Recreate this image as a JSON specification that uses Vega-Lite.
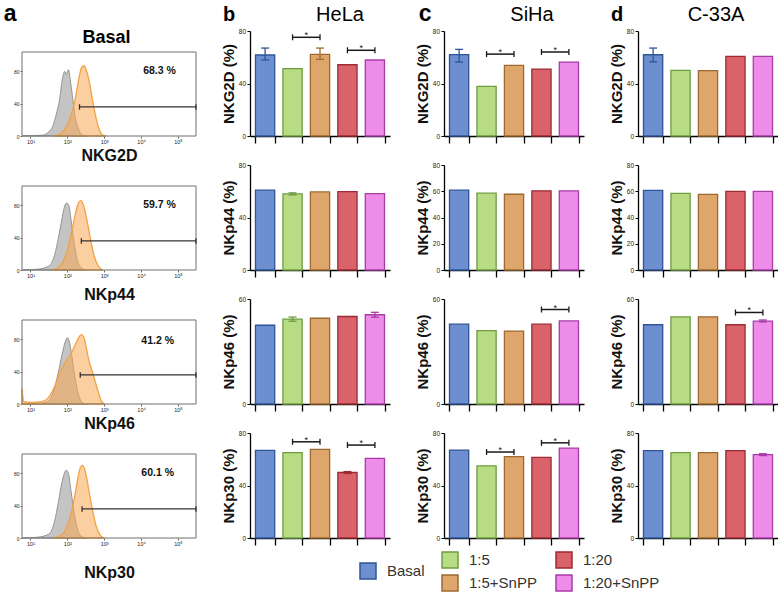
{
"$schema": "https://vega.github.io/schema/vega-lite/v6.json",
"padding": {"left": 3, "top": 2, "right": 0, "bottom": 0},
"background": "white",
"columns": 4,
"bounds": "flush",
"align": "each",
"spacing": {"row": 29, "column": 54},
"resolve": {"scale": {"x": "independent", "y": "independent"}},
"config": {
  "font": "Liberation Sans",
  "view": {"stroke": null},
  "axis": {"grid": false, "labelOverlap": false, "labelColor": "#222", "titleColor": "#111", "labelFont": "Liberation Sans", "titleFont": "Liberation Sans"},
  "axisBand": {"labels": false, "tickBand": "extent", "tickSize": 7, "domainColor": "#000", "tickColor": "#000", "domainWidth": 1.3, "tickWidth": 1.3},
  "axisY": {"labelOverlap": false, "labelFontSize": 6.5, "tickSize": 3, "labelPadding": 1.5, "domainColor": "#000", "tickColor": "#000", "domainWidth": 1.3, "tickWidth": 1, "titleFontSize": 15, "titleFontWeight": "bold", "titlePadding": 2},
  "legend": {"labelFont": "Liberation Sans", "labelFontSize": 15, "labelColor": "#333", "symbolType": "square", "symbolSize": 256, "symbolStrokeWidth": 1.5, "labelOffset": 10, "padding": 0, "symbolBaseFillColor": "#6d8fcf"}
},
"datasets": {
  "bars": [
    {"cell":"HeLa","rec":"NKG2D","cond":"Basal","val":61.7,"lo":57.9,"hi":67},
    {"cell":"HeLa","rec":"NKG2D","cond":"1:5","val":51.3},
    {"cell":"HeLa","rec":"NKG2D","cond":"1:5+SnPP","val":62.2,"lo":58.4,"hi":67},
    {"cell":"HeLa","rec":"NKG2D","cond":"1:20","val":54.3},
    {"cell":"HeLa","rec":"NKG2D","cond":"1:20+SnPP","val":57.9},
    {"cell":"HeLa","rec":"NKp44","cond":"Basal","val":60.8},
    {"cell":"HeLa","rec":"NKp44","cond":"1:5","val":58,"lo":57.2,"hi":58.8},
    {"cell":"HeLa","rec":"NKp44","cond":"1:5+SnPP","val":59.5},
    {"cell":"HeLa","rec":"NKp44","cond":"1:20","val":59.7},
    {"cell":"HeLa","rec":"NKp44","cond":"1:20+SnPP","val":58.2},
    {"cell":"HeLa","rec":"NKp46","cond":"Basal","val":45},
    {"cell":"HeLa","rec":"NKp46","cond":"1:5","val":48.5,"lo":47.3,"hi":49.7},
    {"cell":"HeLa","rec":"NKp46","cond":"1:5+SnPP","val":49},
    {"cell":"HeLa","rec":"NKp46","cond":"1:20","val":50},
    {"cell":"HeLa","rec":"NKp46","cond":"1:20+SnPP","val":51,"lo":49.6,"hi":52.4},
    {"cell":"HeLa","rec":"NKp30","cond":"Basal","val":66.8},
    {"cell":"HeLa","rec":"NKp30","cond":"1:5","val":65},
    {"cell":"HeLa","rec":"NKp30","cond":"1:5+SnPP","val":67.5},
    {"cell":"HeLa","rec":"NKp30","cond":"1:20","val":49.9,"lo":49.2,"hi":50.6},
    {"cell":"HeLa","rec":"NKp30","cond":"1:20+SnPP","val":60.7},
    {"cell":"SiHa","rec":"NKG2D","cond":"Basal","val":62,"lo":56.3,"hi":66},
    {"cell":"SiHa","rec":"NKG2D","cond":"1:5","val":37.8},
    {"cell":"SiHa","rec":"NKG2D","cond":"1:5+SnPP","val":53.8},
    {"cell":"SiHa","rec":"NKG2D","cond":"1:20","val":51},
    {"cell":"SiHa","rec":"NKG2D","cond":"1:20+SnPP","val":56.3},
    {"cell":"SiHa","rec":"NKp44","cond":"Basal","val":60.8},
    {"cell":"SiHa","rec":"NKp44","cond":"1:5","val":58.5},
    {"cell":"SiHa","rec":"NKp44","cond":"1:5+SnPP","val":57.7},
    {"cell":"SiHa","rec":"NKp44","cond":"1:20","val":60.3},
    {"cell":"SiHa","rec":"NKp44","cond":"1:20+SnPP","val":60.3},
    {"cell":"SiHa","rec":"NKp46","cond":"Basal","val":45.6},
    {"cell":"SiHa","rec":"NKp46","cond":"1:5","val":41.9},
    {"cell":"SiHa","rec":"NKp46","cond":"1:5+SnPP","val":41.7},
    {"cell":"SiHa","rec":"NKp46","cond":"1:20","val":45.6},
    {"cell":"SiHa","rec":"NKp46","cond":"1:20+SnPP","val":47.5},
    {"cell":"SiHa","rec":"NKp30","cond":"Basal","val":67},
    {"cell":"SiHa","rec":"NKp30","cond":"1:5","val":55},
    {"cell":"SiHa","rec":"NKp30","cond":"1:5+SnPP","val":62},
    {"cell":"SiHa","rec":"NKp30","cond":"1:20","val":61.5},
    {"cell":"SiHa","rec":"NKp30","cond":"1:20+SnPP","val":68.5},
    {"cell":"C-33A","rec":"NKG2D","cond":"Basal","val":61.9,"lo":56.5,"hi":67},
    {"cell":"C-33A","rec":"NKG2D","cond":"1:5","val":50},
    {"cell":"C-33A","rec":"NKG2D","cond":"1:5+SnPP","val":49.8},
    {"cell":"C-33A","rec":"NKG2D","cond":"1:20","val":60.6},
    {"cell":"C-33A","rec":"NKG2D","cond":"1:20+SnPP","val":60.6},
    {"cell":"C-33A","rec":"NKp44","cond":"Basal","val":60.6},
    {"cell":"C-33A","rec":"NKp44","cond":"1:5","val":58.4},
    {"cell":"C-33A","rec":"NKp44","cond":"1:5+SnPP","val":57.6},
    {"cell":"C-33A","rec":"NKp44","cond":"1:20","val":59.9},
    {"cell":"C-33A","rec":"NKp44","cond":"1:20+SnPP","val":59.9},
    {"cell":"C-33A","rec":"NKp46","cond":"Basal","val":45.3},
    {"cell":"C-33A","rec":"NKp46","cond":"1:5","val":49.8},
    {"cell":"C-33A","rec":"NKp46","cond":"1:5+SnPP","val":49.8},
    {"cell":"C-33A","rec":"NKp46","cond":"1:20","val":45.3},
    {"cell":"C-33A","rec":"NKp46","cond":"1:20+SnPP","val":47.4,"lo":46.9,"hi":48},
    {"cell":"C-33A","rec":"NKp30","cond":"Basal","val":66.6},
    {"cell":"C-33A","rec":"NKp30","cond":"1:5","val":65},
    {"cell":"C-33A","rec":"NKp30","cond":"1:5+SnPP","val":65},
    {"cell":"C-33A","rec":"NKp30","cond":"1:20","val":66.6},
    {"cell":"C-33A","rec":"NKp30","cond":"1:20+SnPP","val":63.5,"lo":62.8,"hi":64.2}
  ],
  "sig": [
    {"cell":"HeLa","rec":"NKG2D","a":"1:5","b":"1:5+SnPP","y":75.2},
    {"cell":"HeLa","rec":"NKG2D","a":"1:20","b":"1:20+SnPP","y":65.3},
    {"cell":"HeLa","rec":"NKp30","a":"1:5","b":"1:5+SnPP","y":73.3},
    {"cell":"HeLa","rec":"NKp30","a":"1:20","b":"1:20+SnPP","y":70.8},
    {"cell":"SiHa","rec":"NKG2D","a":"1:5","b":"1:5+SnPP","y":62.4},
    {"cell":"SiHa","rec":"NKG2D","a":"1:20","b":"1:20+SnPP","y":64},
    {"cell":"SiHa","rec":"NKp46","a":"1:20","b":"1:20+SnPP","y":54},
    {"cell":"SiHa","rec":"NKp30","a":"1:5","b":"1:5+SnPP","y":65.5},
    {"cell":"SiHa","rec":"NKp30","a":"1:20","b":"1:20+SnPP","y":72.5},
    {"cell":"C-33A","rec":"NKp46","a":"1:20","b":"1:20+SnPP","y":52.3}
  ],
  "hist": [
    {"p":"NKG2D","s":"iso","lx":0.8,"n":0},{"p":"NKG2D","s":"iso","lx":1.0,"n":0.5},{"p":"NKG2D","s":"iso","lx":1.32,"n":1},{"p":"NKG2D","s":"iso","lx":1.57,"n":9},{"p":"NKG2D","s":"iso","lx":1.7,"n":27},{"p":"NKG2D","s":"iso","lx":1.79,"n":45},{"p":"NKG2D","s":"iso","lx":1.87,"n":72},{"p":"NKG2D","s":"iso","lx":1.93,"n":80},{"p":"NKG2D","s":"iso","lx":1.97,"n":76},{"p":"NKG2D","s":"iso","lx":2.03,"n":82},{"p":"NKG2D","s":"iso","lx":2.09,"n":66},{"p":"NKG2D","s":"iso","lx":2.15,"n":45},{"p":"NKG2D","s":"iso","lx":2.21,"n":24},{"p":"NKG2D","s":"iso","lx":2.3,"n":9},{"p":"NKG2D","s":"iso","lx":2.41,"n":1},{"p":"NKG2D","s":"iso","lx":2.52,"n":0},
    {"p":"NKG2D","s":"ab","lx":1.6,"n":0},{"p":"NKG2D","s":"ab","lx":1.74,"n":1},{"p":"NKG2D","s":"ab","lx":1.91,"n":7},{"p":"NKG2D","s":"ab","lx":2.09,"n":24},{"p":"NKG2D","s":"ab","lx":2.21,"n":45},{"p":"NKG2D","s":"ab","lx":2.3,"n":68},{"p":"NKG2D","s":"ab","lx":2.38,"n":84},{"p":"NKG2D","s":"ab","lx":2.45,"n":87},{"p":"NKG2D","s":"ab","lx":2.51,"n":82},{"p":"NKG2D","s":"ab","lx":2.6,"n":66},{"p":"NKG2D","s":"ab","lx":2.68,"n":45},{"p":"NKG2D","s":"ab","lx":2.77,"n":24},{"p":"NKG2D","s":"ab","lx":2.85,"n":10},{"p":"NKG2D","s":"ab","lx":2.96,"n":1},{"p":"NKG2D","s":"ab","lx":3.05,"n":0},
    {"p":"NKp44","s":"iso","lx":0.8,"n":0},{"p":"NKp44","s":"iso","lx":1.2,"n":1},{"p":"NKp44","s":"iso","lx":1.5,"n":5},{"p":"NKp44","s":"iso","lx":1.65,"n":18},{"p":"NKp44","s":"iso","lx":1.76,"n":40},{"p":"NKp44","s":"iso","lx":1.85,"n":62},{"p":"NKp44","s":"iso","lx":1.92,"n":78},{"p":"NKp44","s":"iso","lx":1.98,"n":83},{"p":"NKp44","s":"iso","lx":2.04,"n":80},{"p":"NKp44","s":"iso","lx":2.1,"n":62},{"p":"NKp44","s":"iso","lx":2.17,"n":38},{"p":"NKp44","s":"iso","lx":2.25,"n":16},{"p":"NKp44","s":"iso","lx":2.35,"n":4},{"p":"NKp44","s":"iso","lx":2.48,"n":0},
    {"p":"NKp44","s":"ab","lx":1.55,"n":0},{"p":"NKp44","s":"ab","lx":1.72,"n":2},{"p":"NKp44","s":"ab","lx":1.88,"n":10},{"p":"NKp44","s":"ab","lx":2.02,"n":28},{"p":"NKp44","s":"ab","lx":2.13,"n":50},{"p":"NKp44","s":"ab","lx":2.23,"n":72},{"p":"NKp44","s":"ab","lx":2.31,"n":84},{"p":"NKp44","s":"ab","lx":2.37,"n":86},{"p":"NKp44","s":"ab","lx":2.44,"n":80},{"p":"NKp44","s":"ab","lx":2.53,"n":62},{"p":"NKp44","s":"ab","lx":2.63,"n":38},{"p":"NKp44","s":"ab","lx":2.73,"n":17},{"p":"NKp44","s":"ab","lx":2.84,"n":5},{"p":"NKp44","s":"ab","lx":2.96,"n":0},
    {"p":"NKp46","s":"iso","lx":0.8,"n":0},{"p":"NKp46","s":"iso","lx":1.3,"n":1},{"p":"NKp46","s":"iso","lx":1.5,"n":4},{"p":"NKp46","s":"iso","lx":1.62,"n":15},{"p":"NKp46","s":"iso","lx":1.75,"n":38},{"p":"NKp46","s":"iso","lx":1.85,"n":60},{"p":"NKp46","s":"iso","lx":1.95,"n":78},{"p":"NKp46","s":"iso","lx":2.0,"n":82},{"p":"NKp46","s":"iso","lx":2.05,"n":78},{"p":"NKp46","s":"iso","lx":2.12,"n":60},{"p":"NKp46","s":"iso","lx":2.2,"n":35},{"p":"NKp46","s":"iso","lx":2.3,"n":12},{"p":"NKp46","s":"iso","lx":2.4,"n":2},{"p":"NKp46","s":"iso","lx":2.5,"n":0},
    {"p":"NKp46","s":"ab","lx":0.77,"n":19},{"p":"NKp46","s":"ab","lx":0.82,"n":3},{"p":"NKp46","s":"ab","lx":1.0,"n":2},{"p":"NKp46","s":"ab","lx":1.3,"n":3},{"p":"NKp46","s":"ab","lx":1.47,"n":7},{"p":"NKp46","s":"ab","lx":1.64,"n":20},{"p":"NKp46","s":"ab","lx":1.81,"n":40},{"p":"NKp46","s":"ab","lx":1.99,"n":55},{"p":"NKp46","s":"ab","lx":2.1,"n":62},{"p":"NKp46","s":"ab","lx":2.23,"n":75},{"p":"NKp46","s":"ab","lx":2.38,"n":86},{"p":"NKp46","s":"ab","lx":2.45,"n":82},{"p":"NKp46","s":"ab","lx":2.58,"n":55},{"p":"NKp46","s":"ab","lx":2.71,"n":35},{"p":"NKp46","s":"ab","lx":2.84,"n":15},{"p":"NKp46","s":"ab","lx":2.93,"n":3},{"p":"NKp46","s":"ab","lx":3.02,"n":0},
    {"p":"NKp30","s":"iso","lx":0.8,"n":0},{"p":"NKp30","s":"iso","lx":1.2,"n":1},{"p":"NKp30","s":"iso","lx":1.5,"n":5},{"p":"NKp30","s":"iso","lx":1.65,"n":20},{"p":"NKp30","s":"iso","lx":1.76,"n":45},{"p":"NKp30","s":"iso","lx":1.85,"n":68},{"p":"NKp30","s":"iso","lx":1.92,"n":80},{"p":"NKp30","s":"iso","lx":1.97,"n":84},{"p":"NKp30","s":"iso","lx":2.03,"n":80},{"p":"NKp30","s":"iso","lx":2.1,"n":58},{"p":"NKp30","s":"iso","lx":2.18,"n":32},{"p":"NKp30","s":"iso","lx":2.27,"n":12},{"p":"NKp30","s":"iso","lx":2.38,"n":2},{"p":"NKp30","s":"iso","lx":2.5,"n":0},
    {"p":"NKp30","s":"ab","lx":1.6,"n":0},{"p":"NKp30","s":"ab","lx":1.78,"n":2},{"p":"NKp30","s":"ab","lx":1.95,"n":10},{"p":"NKp30","s":"ab","lx":2.1,"n":30},{"p":"NKp30","s":"ab","lx":2.2,"n":52},{"p":"NKp30","s":"ab","lx":2.29,"n":75},{"p":"NKp30","s":"ab","lx":2.36,"n":88},{"p":"NKp30","s":"ab","lx":2.42,"n":90},{"p":"NKp30","s":"ab","lx":2.49,"n":82},{"p":"NKp30","s":"ab","lx":2.58,"n":60},{"p":"NKp30","s":"ab","lx":2.68,"n":35},{"p":"NKp30","s":"ab","lx":2.78,"n":15},{"p":"NKp30","s":"ab","lx":2.9,"n":3},{"p":"NKp30","s":"ab","lx":3.0,"n":0}
  ],
  "gate": [
    {"p":"NKG2D","lo":2.33,"hi":5.49,"y":36,"pct":"68.3 %","tx":4.5,"ty":80},
    {"p":"NKp44","lo":2.38,"hi":5.49,"y":36,"pct":"59.7 %","tx":4.5,"ty":80},
    {"p":"NKp46","lo":2.35,"hi":5.49,"y":36,"pct":"41.2 %","tx":4.45,"ty":78},
    {"p":"NKp30","lo":2.4,"hi":5.49,"y":36,"pct":"60.1 %","tx":4.45,"ty":80}
  ]
},
"concat": [
  {"width": 174, "height": 105, "data": {"name": "hist"}, "transform": [{"filter": "datum.p==='NKG2D'"}],
   "layer": [
    {"transform": [{"filter": "datum.s==='iso'"}], "mark": {"type": "area", "interpolate": "monotone", "fill": "#c4c4c4", "stroke": "#939393", "strokeWidth": 1},
     "encoding": {"x": {"field": "lx", "type": "quantitative", "scale": {"domain": [0.77, 5.49], "nice": false, "zero": false}, "axis": {"values": [1,2,3,4,5], "labelOverlap": false, "labelExpr": "'10' + ['⁰','¹','²','³','⁴','⁵'][datum.value]", "labelFontSize": 5.5, "tickSize": 2, "tickColor": "#666", "domain": false, "labelPadding": 1, "title": "NKG2D", "titleFontSize": 16, "titleFontWeight": "bold", "titlePadding": 3}},
                  "y": {"field": "n", "type": "quantitative", "scale": {"domain": [0, 130], "nice": false}, "axis": {"values": [0,20,40,60,80,100], "labelOverlap": false, "labelFontSize": 5, "tickSize": 2, "tickColor": "#666", "domain": false, "title": null, "labelPadding": 1}}}},
    {"transform": [{"filter": "datum.s==='ab'"}], "mark": {"type": "area", "interpolate": "monotone", "fill": "#f8a852", "fillOpacity": 0.55, "stroke": "#f2a244", "strokeWidth": 1.3},
     "encoding": {"x": {"field": "lx", "type": "quantitative"}, "y": {"field": "n", "type": "quantitative"}}},
    {"data": {"name": "gate"}, "transform": [{"filter": "datum.p==='NKG2D'"}], "layer": [
      {"mark": {"type": "rect", "filled": false, "stroke": "#6e6e6e", "strokeWidth": 1}, "encoding": {"x": {"datum": 0.77, "type": "quantitative"}, "x2": {"datum": 5.49}, "y": {"datum": 0, "type": "quantitative"}, "y2": {"datum": 104}}},
      {"mark": {"type": "rule", "color": "#333", "strokeWidth": 1.2}, "encoding": {"x": {"field": "lo", "type": "quantitative"}, "x2": {"field": "hi"}, "y": {"field": "y", "type": "quantitative"}}},
      {"mark": {"type": "point", "shape": "stroke", "angle": 90, "size": 30, "color": "#333", "strokeWidth": 1.3, "opacity": 1}, "encoding": {"x": {"field": "lo", "type": "quantitative"}, "y": {"field": "y", "type": "quantitative"}}},
      {"mark": {"type": "point", "shape": "stroke", "angle": 90, "size": 30, "color": "#333", "strokeWidth": 1.3, "opacity": 1}, "encoding": {"x": {"field": "hi", "type": "quantitative"}, "y": {"field": "y", "type": "quantitative"}}},
      {"mark": {"type": "text", "fontSize": 10.5, "fontWeight": "bold", "color": "#111"}, "encoding": {"x": {"field": "tx", "type": "quantitative"}, "y": {"field": "ty", "type": "quantitative"}, "text": {"field": "pct"}}},
      {"mark": {"type": "text", "text": "a", "fontSize": 23, "fontWeight": "bold", "align": "center", "baseline": "alphabetic", "color": "#000"}, "encoding": {"x": {"datum": 0.45, "type": "quantitative"}, "y": {"datum": 143, "type": "quantitative"}}},
      {"mark": {"type": "text", "text": "Basal", "fontSize": 18, "fontWeight": "bold", "align": "center", "baseline": "alphabetic", "color": "#000"}, "encoding": {"x": {"datum": 3.06, "type": "quantitative"}, "y": {"datum": 115, "type": "quantitative"}}}
    ]}
   ]},
  {"width": 140, "height": 105, "data": {"name": "bars"}, "transform": [{"filter": "datum.cell==='HeLa' && datum.rec==='NKG2D'"}],
   "layer": [
    {"mark": {"type": "bar", "strokeWidth": 1.3},
     "encoding": {"x": {"field": "cond", "type": "nominal", "scale": {"domain": ["Basal","1:5","1:5+SnPP","1:20","1:20+SnPP"], "paddingInner": 0.3, "paddingOuter": 0.2}, "axis": {"title": null}},
                  "y": {"field": "val", "type": "quantitative", "scale": {"domain": [0, 80], "nice": false}, "axis": {"title": "NKG2D (%)", "values": [0,20,40,60,80], "labelOverlap": false}},
                  "color": {"field": "cond", "type": "nominal", "scale": {"domain": ["Basal","1:5","1:20","1:5+SnPP","1:20+SnPP"], "range": ["#6d8fcf","#b8dc84","#da636b","#dfa66b","#ee8ce9"]},
                            "legend": {"values": ["1:5","1:5+SnPP","1:20","1:20+SnPP"], "columns": 2, "orient": "none", "legendX": 419, "legendY": 520, "title": null, "symbolType": "square", "symbolSize": 256, "symbolStrokeWidth": 1.5, "labelFontSize": 15, "labelOffset": 10, "rowPadding": 1, "columnPadding": 16, "padding": 0, "encode": {"symbols": {"update": {"stroke": {"scale": "stroke", "field": "value"}}}}}},
                  "stroke": {"field": "cond", "type": "nominal", "scale": {"domain": ["Basal","1:5","1:5+SnPP","1:20","1:20+SnPP"], "range": ["#2f5596","#6f9c40","#9c6a30","#9c2b35","#a83ca6"]},
                            "legend": {"values": ["Basal"], "orient": "none", "legendX": 337, "legendY": 531, "title": null, "symbolType": "square", "symbolSize": 256, "symbolStrokeWidth": 1.5, "labelFontSize": 15, "labelOffset": 10, "padding": 0}}}},
    {"transform": [{"filter": "isValid(datum.lo)"}], "layer": [
      {"mark": {"type": "rule", "strokeWidth": 1.3}, "encoding": {"x": {"field": "cond", "type": "nominal"}, "y": {"field": "lo", "type": "quantitative"}, "y2": {"field": "hi"}, "stroke": {"field": "cond", "type": "nominal"}}},
      {"mark": {"type": "point", "shape": "stroke", "size": 64, "strokeWidth": 1.3, "opacity": 1}, "encoding": {"x": {"field": "cond", "type": "nominal"}, "y": {"field": "lo", "type": "quantitative"}, "stroke": {"field": "cond", "type": "nominal"}}},
      {"mark": {"type": "point", "shape": "stroke", "size": 64, "strokeWidth": 1.3, "opacity": 1}, "encoding": {"x": {"field": "cond", "type": "nominal"}, "y": {"field": "hi", "type": "quantitative"}, "stroke": {"field": "cond", "type": "nominal"}}}
    ]},
    {"data": {"name": "sig"}, "transform": [{"filter": "datum.cell==='HeLa' && datum.rec==='NKG2D'"}], "layer": [
      {"mark": {"type": "rule", "color": "#1a1a1a", "strokeWidth": 1.5}, "encoding": {"x": {"field": "a", "type": "nominal"}, "x2": {"field": "b"}, "y": {"field": "y", "type": "quantitative"}}},
      {"mark": {"type": "point", "shape": "stroke", "angle": 90, "size": 36, "color": "#1a1a1a", "strokeWidth": 1.3, "opacity": 1}, "encoding": {"x": {"field": "a", "type": "nominal"}, "y": {"field": "y", "type": "quantitative"}}},
      {"mark": {"type": "point", "shape": "stroke", "angle": 90, "size": 36, "color": "#1a1a1a", "strokeWidth": 1.3, "opacity": 1}, "encoding": {"x": {"field": "b", "type": "nominal"}, "y": {"field": "y", "type": "quantitative"}}},
      {"mark": {"type": "text", "text": "*", "fontSize": 9, "dx": 13.7, "dy": 1, "baseline": "alphabetic", "color": "#111"}, "encoding": {"x": {"field": "a", "type": "nominal"}, "y": {"field": "y", "type": "quantitative"}}}
    ]},
    {"transform": [{"filter": "datum.cond==='Basal'"}], "layer": [
      {"mark": {"type": "text", "text": "b", "fontSize": 20, "fontWeight": "bold", "dx": -36, "align": "center", "baseline": "alphabetic", "color": "#000"}, "encoding": {"x": {"field": "cond", "type": "nominal"}, "y": {"datum": 88, "type": "quantitative"}}},
      {"mark": {"type": "text", "text": "HeLa", "fontSize": 20, "dx": 20, "align": "center", "baseline": "alphabetic", "color": "#000"}, "encoding": {"x": {"datum": "1:5+SnPP"}, "y": {"datum": 88, "type": "quantitative"}}}
    ]}
   ]},
  {"width": 140, "height": 105, "data": {"name": "bars"}, "transform": [{"filter": "datum.cell==='SiHa' && datum.rec==='NKG2D'"}],
   "layer": [
    {"mark": {"type": "bar", "strokeWidth": 1.3},
     "encoding": {"x": {"field": "cond", "type": "nominal", "scale": {"domain": ["Basal","1:5","1:5+SnPP","1:20","1:20+SnPP"], "paddingInner": 0.3, "paddingOuter": 0.2}, "axis": {"title": null}},
                  "y": {"field": "val", "type": "quantitative", "scale": {"domain": [0, 80], "nice": false}, "axis": {"title": "NKG2D (%)", "values": [0,20,40,60,80], "labelOverlap": false}},
                  "color": {"field": "cond", "type": "nominal", "scale": {"domain": ["Basal","1:5","1:20","1:5+SnPP","1:20+SnPP"], "range": ["#6d8fcf","#b8dc84","#da636b","#dfa66b","#ee8ce9"]}},
                  "stroke": {"field": "cond", "type": "nominal", "scale": {"domain": ["Basal","1:5","1:5+SnPP","1:20","1:20+SnPP"], "range": ["#2f5596","#6f9c40","#9c6a30","#9c2b35","#a83ca6"]}}}},
    {"transform": [{"filter": "isValid(datum.lo)"}], "layer": [
      {"mark": {"type": "rule", "strokeWidth": 1.3}, "encoding": {"x": {"field": "cond", "type": "nominal"}, "y": {"field": "lo", "type": "quantitative"}, "y2": {"field": "hi"}, "stroke": {"field": "cond", "type": "nominal"}}},
      {"mark": {"type": "point", "shape": "stroke", "size": 64, "strokeWidth": 1.3, "opacity": 1}, "encoding": {"x": {"field": "cond", "type": "nominal"}, "y": {"field": "lo", "type": "quantitative"}, "stroke": {"field": "cond", "type": "nominal"}}},
      {"mark": {"type": "point", "shape": "stroke", "size": 64, "strokeWidth": 1.3, "opacity": 1}, "encoding": {"x": {"field": "cond", "type": "nominal"}, "y": {"field": "hi", "type": "quantitative"}, "stroke": {"field": "cond", "type": "nominal"}}}
    ]},
    {"data": {"name": "sig"}, "transform": [{"filter": "datum.cell==='SiHa' && datum.rec==='NKG2D'"}], "layer": [
      {"mark": {"type": "rule", "color": "#1a1a1a", "strokeWidth": 1.5}, "encoding": {"x": {"field": "a", "type": "nominal"}, "x2": {"field": "b"}, "y": {"field": "y", "type": "quantitative"}}},
      {"mark": {"type": "point", "shape": "stroke", "angle": 90, "size": 36, "color": "#1a1a1a", "strokeWidth": 1.3, "opacity": 1}, "encoding": {"x": {"field": "a", "type": "nominal"}, "y": {"field": "y", "type": "quantitative"}}},
      {"mark": {"type": "point", "shape": "stroke", "angle": 90, "size": 36, "color": "#1a1a1a", "strokeWidth": 1.3, "opacity": 1}, "encoding": {"x": {"field": "b", "type": "nominal"}, "y": {"field": "y", "type": "quantitative"}}},
      {"mark": {"type": "text", "text": "*", "fontSize": 9, "dx": 13.7, "dy": 1, "baseline": "alphabetic", "color": "#111"}, "encoding": {"x": {"field": "a", "type": "nominal"}, "y": {"field": "y", "type": "quantitative"}}}
    ]},
    {"transform": [{"filter": "datum.cond==='Basal'"}], "layer": [
      {"mark": {"type": "text", "text": "c", "fontSize": 23, "fontWeight": "bold", "dx": -34, "align": "center", "baseline": "alphabetic", "color": "#000"}, "encoding": {"x": {"field": "cond", "type": "nominal"}, "y": {"datum": 88, "type": "quantitative"}}},
      {"mark": {"type": "text", "text": "SiHa", "fontSize": 20, "dx": 18, "align": "center", "baseline": "alphabetic", "color": "#000"}, "encoding": {"x": {"datum": "1:5+SnPP"}, "y": {"datum": 88, "type": "quantitative"}}}
    ]}
   ]},
  {"width": 140, "height": 105, "data": {"name": "bars"}, "transform": [{"filter": "datum.cell==='C-33A' && datum.rec==='NKG2D'"}],
   "layer": [
    {"mark": {"type": "bar", "strokeWidth": 1.3},
     "encoding": {"x": {"field": "cond", "type": "nominal", "scale": {"domain": ["Basal","1:5","1:5+SnPP","1:20","1:20+SnPP"], "paddingInner": 0.3, "paddingOuter": 0.2}, "axis": {"title": null}},
                  "y": {"field": "val", "type": "quantitative", "scale": {"domain": [0, 80], "nice": false}, "axis": {"title": "NKG2D (%)", "values": [0,20,40,60,80], "labelOverlap": false}},
                  "color": {"field": "cond", "type": "nominal", "scale": {"domain": ["Basal","1:5","1:20","1:5+SnPP","1:20+SnPP"], "range": ["#6d8fcf","#b8dc84","#da636b","#dfa66b","#ee8ce9"]}},
                  "stroke": {"field": "cond", "type": "nominal", "scale": {"domain": ["Basal","1:5","1:5+SnPP","1:20","1:20+SnPP"], "range": ["#2f5596","#6f9c40","#9c6a30","#9c2b35","#a83ca6"]}}}},
    {"transform": [{"filter": "isValid(datum.lo)"}], "layer": [
      {"mark": {"type": "rule", "strokeWidth": 1.3}, "encoding": {"x": {"field": "cond", "type": "nominal"}, "y": {"field": "lo", "type": "quantitative"}, "y2": {"field": "hi"}, "stroke": {"field": "cond", "type": "nominal"}}},
      {"mark": {"type": "point", "shape": "stroke", "size": 64, "strokeWidth": 1.3, "opacity": 1}, "encoding": {"x": {"field": "cond", "type": "nominal"}, "y": {"field": "lo", "type": "quantitative"}, "stroke": {"field": "cond", "type": "nominal"}}},
      {"mark": {"type": "point", "shape": "stroke", "size": 64, "strokeWidth": 1.3, "opacity": 1}, "encoding": {"x": {"field": "cond", "type": "nominal"}, "y": {"field": "hi", "type": "quantitative"}, "stroke": {"field": "cond", "type": "nominal"}}}
    ]},
    {"transform": [{"filter": "datum.cond==='Basal'"}], "layer": [
      {"mark": {"type": "text", "text": "d", "fontSize": 20, "fontWeight": "bold", "dx": -36, "align": "center", "baseline": "alphabetic", "color": "#000"}, "encoding": {"x": {"field": "cond", "type": "nominal"}, "y": {"datum": 88, "type": "quantitative"}}},
      {"mark": {"type": "text", "text": "C-33A", "fontSize": 20, "dx": 8, "align": "center", "baseline": "alphabetic", "color": "#000"}, "encoding": {"x": {"datum": "1:5+SnPP"}, "y": {"datum": 88, "type": "quantitative"}}}
    ]}
   ]},
  {"width": 174, "height": 105, "data": {"name": "hist"}, "transform": [{"filter": "datum.p==='NKp44'"}],
   "layer": [
    {"transform": [{"filter": "datum.s==='iso'"}], "mark": {"type": "area", "interpolate": "monotone", "fill": "#c4c4c4", "stroke": "#939393", "strokeWidth": 1},
     "encoding": {"x": {"field": "lx", "type": "quantitative", "scale": {"domain": [0.77, 5.49], "nice": false, "zero": false}, "axis": {"values": [1,2,3,4,5], "labelOverlap": false, "labelExpr": "'10' + ['⁰','¹','²','³','⁴','⁵'][datum.value]", "labelFontSize": 5.5, "tickSize": 2, "tickColor": "#666", "domain": false, "labelPadding": 1, "title": "NKp44", "titleFontSize": 16, "titleFontWeight": "bold", "titlePadding": 8}},
                  "y": {"field": "n", "type": "quantitative", "scale": {"domain": [0, 130], "nice": false}, "axis": {"values": [0,20,40,60,80,100], "labelOverlap": false, "labelFontSize": 5, "tickSize": 2, "tickColor": "#666", "domain": false, "title": null, "labelPadding": 1}}}},
    {"transform": [{"filter": "datum.s==='ab'"}], "mark": {"type": "area", "interpolate": "monotone", "fill": "#f8a852", "fillOpacity": 0.55, "stroke": "#f2a244", "strokeWidth": 1.3},
     "encoding": {"x": {"field": "lx", "type": "quantitative"}, "y": {"field": "n", "type": "quantitative"}}},
    {"data": {"name": "gate"}, "transform": [{"filter": "datum.p==='NKp44'"}], "layer": [
      {"mark": {"type": "rect", "filled": false, "stroke": "#6e6e6e", "strokeWidth": 1}, "encoding": {"x": {"datum": 0.77, "type": "quantitative"}, "x2": {"datum": 5.49}, "y": {"datum": 0, "type": "quantitative"}, "y2": {"datum": 104}}},
      {"mark": {"type": "rule", "color": "#333", "strokeWidth": 1.2}, "encoding": {"x": {"field": "lo", "type": "quantitative"}, "x2": {"field": "hi"}, "y": {"field": "y", "type": "quantitative"}}},
      {"mark": {"type": "point", "shape": "stroke", "angle": 90, "size": 30, "color": "#333", "strokeWidth": 1.3, "opacity": 1}, "encoding": {"x": {"field": "lo", "type": "quantitative"}, "y": {"field": "y", "type": "quantitative"}}},
      {"mark": {"type": "point", "shape": "stroke", "angle": 90, "size": 30, "color": "#333", "strokeWidth": 1.3, "opacity": 1}, "encoding": {"x": {"field": "hi", "type": "quantitative"}, "y": {"field": "y", "type": "quantitative"}}},
      {"mark": {"type": "text", "fontSize": 10.5, "fontWeight": "bold", "color": "#111"}, "encoding": {"x": {"field": "tx", "type": "quantitative"}, "y": {"field": "ty", "type": "quantitative"}, "text": {"field": "pct"}}}
    ]}
   ]},
  {"width": 140, "height": 105, "data": {"name": "bars"}, "transform": [{"filter": "datum.cell==='HeLa' && datum.rec==='NKp44'"}],
   "layer": [
    {"mark": {"type": "bar", "strokeWidth": 1.3},
     "encoding": {"x": {"field": "cond", "type": "nominal", "scale": {"domain": ["Basal","1:5","1:5+SnPP","1:20","1:20+SnPP"], "paddingInner": 0.3, "paddingOuter": 0.2}, "axis": {"title": null}},
                  "y": {"field": "val", "type": "quantitative", "scale": {"domain": [0, 80], "nice": false}, "axis": {"title": "NKp44 (%)", "values": [0,20,40,60,80], "labelOverlap": false}},
                  "color": {"field": "cond", "type": "nominal", "scale": {"domain": ["Basal","1:5","1:20","1:5+SnPP","1:20+SnPP"], "range": ["#6d8fcf","#b8dc84","#da636b","#dfa66b","#ee8ce9"]}},
                  "stroke": {"field": "cond", "type": "nominal", "scale": {"domain": ["Basal","1:5","1:5+SnPP","1:20","1:20+SnPP"], "range": ["#2f5596","#6f9c40","#9c6a30","#9c2b35","#a83ca6"]}}}},
    {"transform": [{"filter": "isValid(datum.lo)"}], "layer": [
      {"mark": {"type": "rule", "strokeWidth": 1.3}, "encoding": {"x": {"field": "cond", "type": "nominal"}, "y": {"field": "lo", "type": "quantitative"}, "y2": {"field": "hi"}, "stroke": {"field": "cond", "type": "nominal"}}},
      {"mark": {"type": "point", "shape": "stroke", "size": 64, "strokeWidth": 1.3, "opacity": 1}, "encoding": {"x": {"field": "cond", "type": "nominal"}, "y": {"field": "lo", "type": "quantitative"}, "stroke": {"field": "cond", "type": "nominal"}}},
      {"mark": {"type": "point", "shape": "stroke", "size": 64, "strokeWidth": 1.3, "opacity": 1}, "encoding": {"x": {"field": "cond", "type": "nominal"}, "y": {"field": "hi", "type": "quantitative"}, "stroke": {"field": "cond", "type": "nominal"}}}
    ]}
   ]},
  {"width": 140, "height": 105, "data": {"name": "bars"}, "transform": [{"filter": "datum.cell==='SiHa' && datum.rec==='NKp44'"}],
   "mark": {"type": "bar", "strokeWidth": 1.3},
   "encoding": {"x": {"field": "cond", "type": "nominal", "scale": {"domain": ["Basal","1:5","1:5+SnPP","1:20","1:20+SnPP"], "paddingInner": 0.3, "paddingOuter": 0.2}, "axis": {"title": null}},
                "y": {"field": "val", "type": "quantitative", "scale": {"domain": [0, 80], "nice": false}, "axis": {"title": "NKp44 (%)", "values": [0,20,40,60,80], "labelOverlap": false}},
                "color": {"field": "cond", "type": "nominal", "scale": {"domain": ["Basal","1:5","1:20","1:5+SnPP","1:20+SnPP"], "range": ["#6d8fcf","#b8dc84","#da636b","#dfa66b","#ee8ce9"]}},
                "stroke": {"field": "cond", "type": "nominal", "scale": {"domain": ["Basal","1:5","1:5+SnPP","1:20","1:20+SnPP"], "range": ["#2f5596","#6f9c40","#9c6a30","#9c2b35","#a83ca6"]}}}},
  {"width": 140, "height": 105, "data": {"name": "bars"}, "transform": [{"filter": "datum.cell==='C-33A' && datum.rec==='NKp44'"}],
   "mark": {"type": "bar", "strokeWidth": 1.3},
   "encoding": {"x": {"field": "cond", "type": "nominal", "scale": {"domain": ["Basal","1:5","1:5+SnPP","1:20","1:20+SnPP"], "paddingInner": 0.3, "paddingOuter": 0.2}, "axis": {"title": null}},
                "y": {"field": "val", "type": "quantitative", "scale": {"domain": [0, 80], "nice": false}, "axis": {"title": "NKp44 (%)", "values": [0,20,40,60,80], "labelOverlap": false}},
                "color": {"field": "cond", "type": "nominal", "scale": {"domain": ["Basal","1:5","1:20","1:5+SnPP","1:20+SnPP"], "range": ["#6d8fcf","#b8dc84","#da636b","#dfa66b","#ee8ce9"]}},
                "stroke": {"field": "cond", "type": "nominal", "scale": {"domain": ["Basal","1:5","1:5+SnPP","1:20","1:20+SnPP"], "range": ["#2f5596","#6f9c40","#9c6a30","#9c2b35","#a83ca6"]}}}},
  {"width": 174, "height": 105, "data": {"name": "hist"}, "transform": [{"filter": "datum.p==='NKp46'"}],
   "layer": [
    {"transform": [{"filter": "datum.s==='iso'"}], "mark": {"type": "area", "interpolate": "monotone", "fill": "#c4c4c4", "stroke": "#939393", "strokeWidth": 1},
     "encoding": {"x": {"field": "lx", "type": "quantitative", "scale": {"domain": [0.77, 5.49], "nice": false, "zero": false}, "axis": {"values": [1,2,3,4,5], "labelOverlap": false, "labelExpr": "'10' + ['⁰','¹','²','³','⁴','⁵'][datum.value]", "labelFontSize": 5.5, "tickSize": 2, "tickColor": "#666", "domain": false, "labelPadding": 1, "title": "NKp46", "titleFontSize": 16, "titleFontWeight": "bold", "titlePadding": 3}},
                  "y": {"field": "n", "type": "quantitative", "scale": {"domain": [0, 130], "nice": false}, "axis": {"values": [0,20,40,60,80,100], "labelOverlap": false, "labelFontSize": 5, "tickSize": 2, "tickColor": "#666", "domain": false, "title": null, "labelPadding": 1}}}},
    {"transform": [{"filter": "datum.s==='ab'"}], "mark": {"type": "area", "interpolate": "monotone", "fill": "#f8a852", "fillOpacity": 0.55, "stroke": "#f2a244", "strokeWidth": 1.3},
     "encoding": {"x": {"field": "lx", "type": "quantitative"}, "y": {"field": "n", "type": "quantitative"}}},
    {"data": {"name": "gate"}, "transform": [{"filter": "datum.p==='NKp46'"}], "layer": [
      {"mark": {"type": "rect", "filled": false, "stroke": "#6e6e6e", "strokeWidth": 1}, "encoding": {"x": {"datum": 0.77, "type": "quantitative"}, "x2": {"datum": 5.49}, "y": {"datum": 0, "type": "quantitative"}, "y2": {"datum": 104}}},
      {"mark": {"type": "rule", "color": "#333", "strokeWidth": 1.2}, "encoding": {"x": {"field": "lo", "type": "quantitative"}, "x2": {"field": "hi"}, "y": {"field": "y", "type": "quantitative"}}},
      {"mark": {"type": "point", "shape": "stroke", "angle": 90, "size": 30, "color": "#333", "strokeWidth": 1.3, "opacity": 1}, "encoding": {"x": {"field": "lo", "type": "quantitative"}, "y": {"field": "y", "type": "quantitative"}}},
      {"mark": {"type": "point", "shape": "stroke", "angle": 90, "size": 30, "color": "#333", "strokeWidth": 1.3, "opacity": 1}, "encoding": {"x": {"field": "hi", "type": "quantitative"}, "y": {"field": "y", "type": "quantitative"}}},
      {"mark": {"type": "text", "fontSize": 10.5, "fontWeight": "bold", "color": "#111"}, "encoding": {"x": {"field": "tx", "type": "quantitative"}, "y": {"field": "ty", "type": "quantitative"}, "text": {"field": "pct"}}}
    ]}
   ]},
  {"width": 140, "height": 105, "data": {"name": "bars"}, "transform": [{"filter": "datum.cell==='HeLa' && datum.rec==='NKp46'"}],
   "layer": [
    {"mark": {"type": "bar", "strokeWidth": 1.3},
     "encoding": {"x": {"field": "cond", "type": "nominal", "scale": {"domain": ["Basal","1:5","1:5+SnPP","1:20","1:20+SnPP"], "paddingInner": 0.3, "paddingOuter": 0.2}, "axis": {"title": null}},
                  "y": {"field": "val", "type": "quantitative", "scale": {"domain": [0, 60], "nice": false}, "axis": {"title": "NKp46 (%)", "values": [0,20,40,60], "labelOverlap": false}},
                  "color": {"field": "cond", "type": "nominal", "scale": {"domain": ["Basal","1:5","1:20","1:5+SnPP","1:20+SnPP"], "range": ["#6d8fcf","#b8dc84","#da636b","#dfa66b","#ee8ce9"]}},
                  "stroke": {"field": "cond", "type": "nominal", "scale": {"domain": ["Basal","1:5","1:5+SnPP","1:20","1:20+SnPP"], "range": ["#2f5596","#6f9c40","#9c6a30","#9c2b35","#a83ca6"]}}}},
    {"transform": [{"filter": "isValid(datum.lo)"}], "layer": [
      {"mark": {"type": "rule", "strokeWidth": 1.3}, "encoding": {"x": {"field": "cond", "type": "nominal"}, "y": {"field": "lo", "type": "quantitative"}, "y2": {"field": "hi"}, "stroke": {"field": "cond", "type": "nominal"}}},
      {"mark": {"type": "point", "shape": "stroke", "size": 64, "strokeWidth": 1.3, "opacity": 1}, "encoding": {"x": {"field": "cond", "type": "nominal"}, "y": {"field": "lo", "type": "quantitative"}, "stroke": {"field": "cond", "type": "nominal"}}},
      {"mark": {"type": "point", "shape": "stroke", "size": 64, "strokeWidth": 1.3, "opacity": 1}, "encoding": {"x": {"field": "cond", "type": "nominal"}, "y": {"field": "hi", "type": "quantitative"}, "stroke": {"field": "cond", "type": "nominal"}}}
    ]}
   ]},
  {"width": 140, "height": 105, "data": {"name": "bars"}, "transform": [{"filter": "datum.cell==='SiHa' && datum.rec==='NKp46'"}],
   "layer": [
    {"mark": {"type": "bar", "strokeWidth": 1.3},
     "encoding": {"x": {"field": "cond", "type": "nominal", "scale": {"domain": ["Basal","1:5","1:5+SnPP","1:20","1:20+SnPP"], "paddingInner": 0.3, "paddingOuter": 0.2}, "axis": {"title": null}},
                  "y": {"field": "val", "type": "quantitative", "scale": {"domain": [0, 60], "nice": false}, "axis": {"title": "NKp46 (%)", "values": [0,20,40,60], "labelOverlap": false}},
                  "color": {"field": "cond", "type": "nominal", "scale": {"domain": ["Basal","1:5","1:20","1:5+SnPP","1:20+SnPP"], "range": ["#6d8fcf","#b8dc84","#da636b","#dfa66b","#ee8ce9"]}},
                  "stroke": {"field": "cond", "type": "nominal", "scale": {"domain": ["Basal","1:5","1:5+SnPP","1:20","1:20+SnPP"], "range": ["#2f5596","#6f9c40","#9c6a30","#9c2b35","#a83ca6"]}}}},
    {"data": {"name": "sig"}, "transform": [{"filter": "datum.cell==='SiHa' && datum.rec==='NKp46'"}], "layer": [
      {"mark": {"type": "rule", "color": "#1a1a1a", "strokeWidth": 1.5}, "encoding": {"x": {"field": "a", "type": "nominal"}, "x2": {"field": "b"}, "y": {"field": "y", "type": "quantitative"}}},
      {"mark": {"type": "point", "shape": "stroke", "angle": 90, "size": 36, "color": "#1a1a1a", "strokeWidth": 1.3, "opacity": 1}, "encoding": {"x": {"field": "a", "type": "nominal"}, "y": {"field": "y", "type": "quantitative"}}},
      {"mark": {"type": "point", "shape": "stroke", "angle": 90, "size": 36, "color": "#1a1a1a", "strokeWidth": 1.3, "opacity": 1}, "encoding": {"x": {"field": "b", "type": "nominal"}, "y": {"field": "y", "type": "quantitative"}}},
      {"mark": {"type": "text", "text": "*", "fontSize": 9, "dx": 13.7, "dy": 1, "baseline": "alphabetic", "color": "#111"}, "encoding": {"x": {"field": "a", "type": "nominal"}, "y": {"field": "y", "type": "quantitative"}}}
    ]}
   ]},
  {"width": 140, "height": 105, "data": {"name": "bars"}, "transform": [{"filter": "datum.cell==='C-33A' && datum.rec==='NKp46'"}],
   "layer": [
    {"mark": {"type": "bar", "strokeWidth": 1.3},
     "encoding": {"x": {"field": "cond", "type": "nominal", "scale": {"domain": ["Basal","1:5","1:5+SnPP","1:20","1:20+SnPP"], "paddingInner": 0.3, "paddingOuter": 0.2}, "axis": {"title": null}},
                  "y": {"field": "val", "type": "quantitative", "scale": {"domain": [0, 60], "nice": false}, "axis": {"title": "NKp46 (%)", "values": [0,20,40,60], "labelOverlap": false}},
                  "color": {"field": "cond", "type": "nominal", "scale": {"domain": ["Basal","1:5","1:20","1:5+SnPP","1:20+SnPP"], "range": ["#6d8fcf","#b8dc84","#da636b","#dfa66b","#ee8ce9"]}},
                  "stroke": {"field": "cond", "type": "nominal", "scale": {"domain": ["Basal","1:5","1:5+SnPP","1:20","1:20+SnPP"], "range": ["#2f5596","#6f9c40","#9c6a30","#9c2b35","#a83ca6"]}}}},
    {"transform": [{"filter": "isValid(datum.lo)"}], "layer": [
      {"mark": {"type": "rule", "strokeWidth": 1.3}, "encoding": {"x": {"field": "cond", "type": "nominal"}, "y": {"field": "lo", "type": "quantitative"}, "y2": {"field": "hi"}, "stroke": {"field": "cond", "type": "nominal"}}},
      {"mark": {"type": "point", "shape": "stroke", "size": 64, "strokeWidth": 1.3, "opacity": 1}, "encoding": {"x": {"field": "cond", "type": "nominal"}, "y": {"field": "lo", "type": "quantitative"}, "stroke": {"field": "cond", "type": "nominal"}}},
      {"mark": {"type": "point", "shape": "stroke", "size": 64, "strokeWidth": 1.3, "opacity": 1}, "encoding": {"x": {"field": "cond", "type": "nominal"}, "y": {"field": "hi", "type": "quantitative"}, "stroke": {"field": "cond", "type": "nominal"}}}
    ]},
    {"data": {"name": "sig"}, "transform": [{"filter": "datum.cell==='C-33A' && datum.rec==='NKp46'"}], "layer": [
      {"mark": {"type": "rule", "color": "#1a1a1a", "strokeWidth": 1.5}, "encoding": {"x": {"field": "a", "type": "nominal"}, "x2": {"field": "b"}, "y": {"field": "y", "type": "quantitative"}}},
      {"mark": {"type": "point", "shape": "stroke", "angle": 90, "size": 36, "color": "#1a1a1a", "strokeWidth": 1.3, "opacity": 1}, "encoding": {"x": {"field": "a", "type": "nominal"}, "y": {"field": "y", "type": "quantitative"}}},
      {"mark": {"type": "point", "shape": "stroke", "angle": 90, "size": 36, "color": "#1a1a1a", "strokeWidth": 1.3, "opacity": 1}, "encoding": {"x": {"field": "b", "type": "nominal"}, "y": {"field": "y", "type": "quantitative"}}},
      {"mark": {"type": "text", "text": "*", "fontSize": 9, "dx": 13.7, "dy": 1, "baseline": "alphabetic", "color": "#111"}, "encoding": {"x": {"field": "a", "type": "nominal"}, "y": {"field": "y", "type": "quantitative"}}}
    ]}
   ]},
  {"width": 174, "height": 105, "data": {"name": "hist"}, "transform": [{"filter": "datum.p==='NKp30'"}],
   "layer": [
    {"transform": [{"filter": "datum.s==='iso'"}], "mark": {"type": "area", "interpolate": "monotone", "fill": "#c4c4c4", "stroke": "#939393", "strokeWidth": 1},
     "encoding": {"x": {"field": "lx", "type": "quantitative", "scale": {"domain": [0.77, 5.49], "nice": false, "zero": false}, "axis": {"values": [1,2,3,4,5], "labelOverlap": false, "labelExpr": "'10' + ['⁰','¹','²','³','⁴','⁵'][datum.value]", "labelFontSize": 5.5, "tickSize": 2, "tickColor": "#666", "domain": false, "labelPadding": 1, "title": "NKp30", "titleFontSize": 16, "titleFontWeight": "bold", "titlePadding": 18}},
                  "y": {"field": "n", "type": "quantitative", "scale": {"domain": [0, 130], "nice": false}, "axis": {"values": [0,20,40,60,80,100], "labelOverlap": false, "labelFontSize": 5, "tickSize": 2, "tickColor": "#666", "domain": false, "title": null, "labelPadding": 1}}}},
    {"transform": [{"filter": "datum.s==='ab'"}], "mark": {"type": "area", "interpolate": "monotone", "fill": "#f8a852", "fillOpacity": 0.55, "stroke": "#f2a244", "strokeWidth": 1.3},
     "encoding": {"x": {"field": "lx", "type": "quantitative"}, "y": {"field": "n", "type": "quantitative"}}},
    {"data": {"name": "gate"}, "transform": [{"filter": "datum.p==='NKp30'"}], "layer": [
      {"mark": {"type": "rect", "filled": false, "stroke": "#6e6e6e", "strokeWidth": 1}, "encoding": {"x": {"datum": 0.77, "type": "quantitative"}, "x2": {"datum": 5.49}, "y": {"datum": 0, "type": "quantitative"}, "y2": {"datum": 104}}},
      {"mark": {"type": "rule", "color": "#333", "strokeWidth": 1.2}, "encoding": {"x": {"field": "lo", "type": "quantitative"}, "x2": {"field": "hi"}, "y": {"field": "y", "type": "quantitative"}}},
      {"mark": {"type": "point", "shape": "stroke", "angle": 90, "size": 30, "color": "#333", "strokeWidth": 1.3, "opacity": 1}, "encoding": {"x": {"field": "lo", "type": "quantitative"}, "y": {"field": "y", "type": "quantitative"}}},
      {"mark": {"type": "point", "shape": "stroke", "angle": 90, "size": 30, "color": "#333", "strokeWidth": 1.3, "opacity": 1}, "encoding": {"x": {"field": "hi", "type": "quantitative"}, "y": {"field": "y", "type": "quantitative"}}},
      {"mark": {"type": "text", "fontSize": 10.5, "fontWeight": "bold", "color": "#111"}, "encoding": {"x": {"field": "tx", "type": "quantitative"}, "y": {"field": "ty", "type": "quantitative"}, "text": {"field": "pct"}}}
    ]}
   ]},
  {"width": 140, "height": 105, "data": {"name": "bars"}, "transform": [{"filter": "datum.cell==='HeLa' && datum.rec==='NKp30'"}],
   "layer": [
    {"mark": {"type": "bar", "strokeWidth": 1.3},
     "encoding": {"x": {"field": "cond", "type": "nominal", "scale": {"domain": ["Basal","1:5","1:5+SnPP","1:20","1:20+SnPP"], "paddingInner": 0.3, "paddingOuter": 0.2}, "axis": {"title": null}},
                  "y": {"field": "val", "type": "quantitative", "scale": {"domain": [0, 80], "nice": false}, "axis": {"title": "NKp30 (%)", "values": [0,20,40,60,80], "labelOverlap": false}},
                  "color": {"field": "cond", "type": "nominal", "scale": {"domain": ["Basal","1:5","1:20","1:5+SnPP","1:20+SnPP"], "range": ["#6d8fcf","#b8dc84","#da636b","#dfa66b","#ee8ce9"]}},
                  "stroke": {"field": "cond", "type": "nominal", "scale": {"domain": ["Basal","1:5","1:5+SnPP","1:20","1:20+SnPP"], "range": ["#2f5596","#6f9c40","#9c6a30","#9c2b35","#a83ca6"]}}}},
    {"transform": [{"filter": "isValid(datum.lo)"}], "layer": [
      {"mark": {"type": "rule", "strokeWidth": 1.3}, "encoding": {"x": {"field": "cond", "type": "nominal"}, "y": {"field": "lo", "type": "quantitative"}, "y2": {"field": "hi"}, "stroke": {"field": "cond", "type": "nominal"}}},
      {"mark": {"type": "point", "shape": "stroke", "size": 64, "strokeWidth": 1.3, "opacity": 1}, "encoding": {"x": {"field": "cond", "type": "nominal"}, "y": {"field": "lo", "type": "quantitative"}, "stroke": {"field": "cond", "type": "nominal"}}},
      {"mark": {"type": "point", "shape": "stroke", "size": 64, "strokeWidth": 1.3, "opacity": 1}, "encoding": {"x": {"field": "cond", "type": "nominal"}, "y": {"field": "hi", "type": "quantitative"}, "stroke": {"field": "cond", "type": "nominal"}}}
    ]},
    {"data": {"name": "sig"}, "transform": [{"filter": "datum.cell==='HeLa' && datum.rec==='NKp30'"}], "layer": [
      {"mark": {"type": "rule", "color": "#1a1a1a", "strokeWidth": 1.5}, "encoding": {"x": {"field": "a", "type": "nominal"}, "x2": {"field": "b"}, "y": {"field": "y", "type": "quantitative"}}},
      {"mark": {"type": "point", "shape": "stroke", "angle": 90, "size": 36, "color": "#1a1a1a", "strokeWidth": 1.3, "opacity": 1}, "encoding": {"x": {"field": "a", "type": "nominal"}, "y": {"field": "y", "type": "quantitative"}}},
      {"mark": {"type": "point", "shape": "stroke", "angle": 90, "size": 36, "color": "#1a1a1a", "strokeWidth": 1.3, "opacity": 1}, "encoding": {"x": {"field": "b", "type": "nominal"}, "y": {"field": "y", "type": "quantitative"}}},
      {"mark": {"type": "text", "text": "*", "fontSize": 9, "dx": 13.7, "dy": 1, "baseline": "alphabetic", "color": "#111"}, "encoding": {"x": {"field": "a", "type": "nominal"}, "y": {"field": "y", "type": "quantitative"}}}
    ]}
   ]},
  {"width": 140, "height": 105, "data": {"name": "bars"}, "transform": [{"filter": "datum.cell==='SiHa' && datum.rec==='NKp30'"}],
   "layer": [
    {"mark": {"type": "bar", "strokeWidth": 1.3},
     "encoding": {"x": {"field": "cond", "type": "nominal", "scale": {"domain": ["Basal","1:5","1:5+SnPP","1:20","1:20+SnPP"], "paddingInner": 0.3, "paddingOuter": 0.2}, "axis": {"title": null}},
                  "y": {"field": "val", "type": "quantitative", "scale": {"domain": [0, 80], "nice": false}, "axis": {"title": "NKp30 (%)", "values": [0,20,40,60,80], "labelOverlap": false}},
                  "color": {"field": "cond", "type": "nominal", "scale": {"domain": ["Basal","1:5","1:20","1:5+SnPP","1:20+SnPP"], "range": ["#6d8fcf","#b8dc84","#da636b","#dfa66b","#ee8ce9"]}},
                  "stroke": {"field": "cond", "type": "nominal", "scale": {"domain": ["Basal","1:5","1:5+SnPP","1:20","1:20+SnPP"], "range": ["#2f5596","#6f9c40","#9c6a30","#9c2b35","#a83ca6"]}}}},
    {"data": {"name": "sig"}, "transform": [{"filter": "datum.cell==='SiHa' && datum.rec==='NKp30'"}], "layer": [
      {"mark": {"type": "rule", "color": "#1a1a1a", "strokeWidth": 1.5}, "encoding": {"x": {"field": "a", "type": "nominal"}, "x2": {"field": "b"}, "y": {"field": "y", "type": "quantitative"}}},
      {"mark": {"type": "point", "shape": "stroke", "angle": 90, "size": 36, "color": "#1a1a1a", "strokeWidth": 1.3, "opacity": 1}, "encoding": {"x": {"field": "a", "type": "nominal"}, "y": {"field": "y", "type": "quantitative"}}},
      {"mark": {"type": "point", "shape": "stroke", "angle": 90, "size": 36, "color": "#1a1a1a", "strokeWidth": 1.3, "opacity": 1}, "encoding": {"x": {"field": "b", "type": "nominal"}, "y": {"field": "y", "type": "quantitative"}}},
      {"mark": {"type": "text", "text": "*", "fontSize": 9, "dx": 13.7, "dy": 1, "baseline": "alphabetic", "color": "#111"}, "encoding": {"x": {"field": "a", "type": "nominal"}, "y": {"field": "y", "type": "quantitative"}}}
    ]}
   ]},
  {"width": 140, "height": 105, "data": {"name": "bars"}, "transform": [{"filter": "datum.cell==='C-33A' && datum.rec==='NKp30'"}],
   "layer": [
    {"mark": {"type": "bar", "strokeWidth": 1.3},
     "encoding": {"x": {"field": "cond", "type": "nominal", "scale": {"domain": ["Basal","1:5","1:5+SnPP","1:20","1:20+SnPP"], "paddingInner": 0.3, "paddingOuter": 0.2}, "axis": {"title": null}},
                  "y": {"field": "val", "type": "quantitative", "scale": {"domain": [0, 80], "nice": false}, "axis": {"title": "NKp30 (%)", "values": [0,20,40,60,80], "labelOverlap": false}},
                  "color": {"field": "cond", "type": "nominal", "scale": {"domain": ["Basal","1:5","1:20","1:5+SnPP","1:20+SnPP"], "range": ["#6d8fcf","#b8dc84","#da636b","#dfa66b","#ee8ce9"]}},
                  "stroke": {"field": "cond", "type": "nominal", "scale": {"domain": ["Basal","1:5","1:5+SnPP","1:20","1:20+SnPP"], "range": ["#2f5596","#6f9c40","#9c6a30","#9c2b35","#a83ca6"]}}}},
    {"transform": [{"filter": "isValid(datum.lo)"}], "layer": [
      {"mark": {"type": "rule", "strokeWidth": 1.3}, "encoding": {"x": {"field": "cond", "type": "nominal"}, "y": {"field": "lo", "type": "quantitative"}, "y2": {"field": "hi"}, "stroke": {"field": "cond", "type": "nominal"}}},
      {"mark": {"type": "point", "shape": "stroke", "size": 64, "strokeWidth": 1.3, "opacity": 1}, "encoding": {"x": {"field": "cond", "type": "nominal"}, "y": {"field": "lo", "type": "quantitative"}, "stroke": {"field": "cond", "type": "nominal"}}},
      {"mark": {"type": "point", "shape": "stroke", "size": 64, "strokeWidth": 1.3, "opacity": 1}, "encoding": {"x": {"field": "cond", "type": "nominal"}, "y": {"field": "hi", "type": "quantitative"}, "stroke": {"field": "cond", "type": "nominal"}}}
    ]}
   ]}
]
}
